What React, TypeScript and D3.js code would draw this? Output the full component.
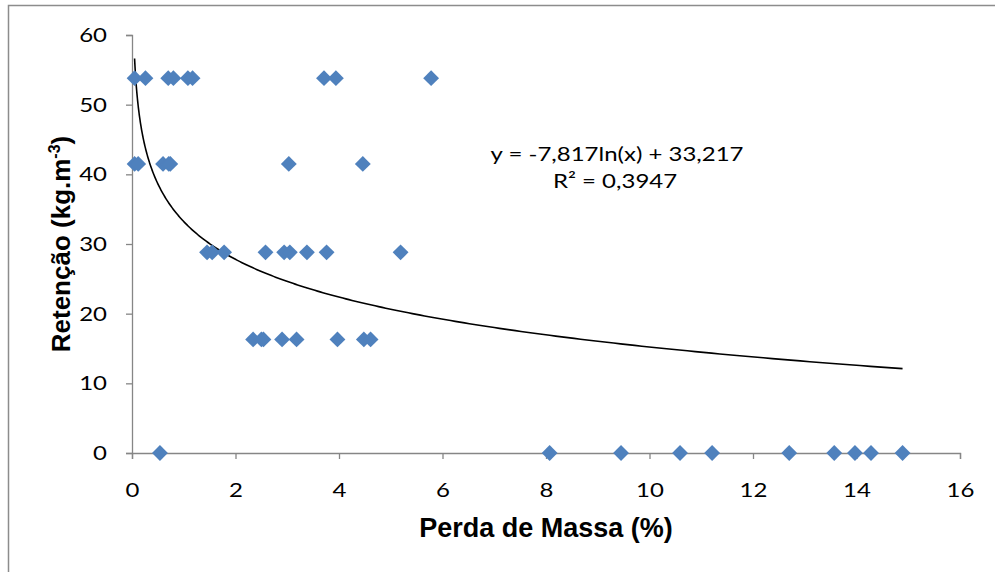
import React, { useEffect, useRef } from "react";
import * as d3 from "d3";

// Perda de Massa (%) vs Retenção (kg.m-3)
const row54 = [0.05, 0.26, 0.7, 0.8, 1.08, 1.17, 3.71, 3.94, 5.78];
const row41 = [0.05, 0.12, 0.6, 0.71, 0.74, 3.03, 4.46];
const row29 = [1.45, 1.55, 1.78, 2.58, 2.94, 3.05, 3.38, 3.76, 5.19];
const row16 = [2.34, 2.5, 2.54, 2.9, 3.18, 3.97, 4.48, 4.61];
const row0 = [0.54, 8.07, 9.45, 10.59, 11.21, 12.7, 13.57, 13.97, 14.28, 14.89];
const retentionLevels = [53.8, 41.5, 28.8, 16.3, 0];

const xTicks = [0, 2, 4, 6, 8, 10, 12, 14, 16];
const yTicks = [0, 10, 20, 30, 40, 50, 60];

// trendline y = a*ln(x) + b
const trendA = -7.817;
const trendB = 33.217;

const W = 995;
const H = 572;
const bodyFont = "Lato, 'Open Sans', sans-serif";
const titleFont = "'Liberation Sans', Arial, sans-serif";
const stretch = "scale(1.2,1)";

export default function App() {
  const ref = useRef<SVGSVGElement>(null);

  useEffect(() => {
    const svg = d3.select(ref.current);
    svg.selectAll("*").remove();

    const x = d3.scaleLinear().domain([0, 16]).range([132, 960]);
    const y = d3.scaleLinear().domain([0, 60]).range([453, 35]);

    // outer chart border
    svg
      .append("rect")
      .attr("x", 8.5)
      .attr("y", 5.5)
      .attr("width", W + 20)
      .attr("height", H + 20)
      .attr("fill", "white")
      .attr("stroke", "#8c8c8c")
      .attr("stroke-width", 1.5);

    const axisColor = "#868686";

    const gx = svg
      .append("g")
      .attr("transform", `translate(0,${y(0)})`)
      .call(d3.axisBottom(x).tickValues(xTicks).tickSize(6));
    const gy = svg
      .append("g")
      .attr("transform", `translate(${x(0)},0)`)
      .call(d3.axisLeft(y).tickValues(yTicks).tickSize(6));

    [gx, gy].forEach((g) => {
      g.select(".domain").attr("stroke", axisColor).attr("stroke-width", 1.3);
      g.selectAll(".tick line").attr("stroke", axisColor).attr("stroke-width", 1.3);
      g.selectAll(".tick text")
        .attr("fill", "#000")
        .style("font-family", bodyFont)
        .style("font-size", "20px");
    });
    gx.selectAll(".tick text")
      .attr("y", 0)
      .attr("dy", 0)
      .attr("transform", `translate(0,44) ${stretch}`);
    gy.selectAll(".tick text")
      .attr("x", 0)
      .attr("transform", `translate(-25,0) ${stretch}`);

    // trendline
    const allX = [...row54, ...row41, ...row29, ...row16, ...row0];
    const xMin = d3.min(allX) ?? 0.05;
    const xMax = d3.max(allX) ?? 15;
    const trend = d3.range(0, 401).map((i) => {
      const xv = Math.exp(Math.log(xMin) + (i / 400) * (Math.log(xMax) - Math.log(xMin)));
      return [xv, trendA * Math.log(xv) + trendB] as [number, number];
    });
    svg
      .append("path")
      .datum(trend)
      .attr("fill", "none")
      .attr("stroke", "#000")
      .attr("stroke-width", 1.6)
      .attr(
        "d",
        d3
          .line<[number, number]>()
          .x((d) => x(d[0]))
          .y((d) => y(d[1]))
      );

    // points
    const rows = [row54, row41, row29, row16, row0];
    const points = rows.flatMap((r, i) => r.map((v) => ({ x: v, y: retentionLevels[i] })));
    const diamond = d3.symbol().type(d3.symbolDiamond2).size(160);
    svg
      .append("g")
      .selectAll("path")
      .data(points)
      .join("path")
      .attr("transform", (d) => `translate(${x(d.x)},${y(d.y)})`)
      .attr("d", diamond)
      .attr("fill", "#4F81BD");

    // equation
    const eq = svg
      .append("g")
      .attr("text-anchor", "middle")
      .style("font-family", bodyFont)
      .style("font-size", "20px");
    eq.append("text")
      .attr("transform", `translate(617,161) ${stretch}`)
      .text("y = -7,817ln(x) + 33,217");
    eq.append("text")
      .attr("transform", `translate(615,188) ${stretch}`)
      .text("R² = 0,3947");

    // axis titles
    svg
      .append("text")
      .attr("x", 546)
      .attr("y", 537)
      .attr("text-anchor", "middle")
      .style("font-family", titleFont)
      .style("font-weight", "bold")
      .style("font-size", "27px")
      .text("Perda de Massa (%)");

    const yt = svg
      .append("text")
      .attr("transform", `translate(70,244) rotate(-90)`)
      .attr("text-anchor", "middle")
      .style("font-family", titleFont)
      .style("font-weight", "bold")
      .style("font-size", "26px");
    yt.append("tspan").text("Retenção (kg.m");
    yt.append("tspan").attr("dy", -10).style("font-size", "16px").text("-3");
    yt.append("tspan").attr("dy", 10).text(")");
  }, []);

  return (
    <svg
      ref={ref}
      width={W}
      height={H}
      style={{ position: "absolute", left: 0, top: 0, display: "block" }}
    />
  );
}
